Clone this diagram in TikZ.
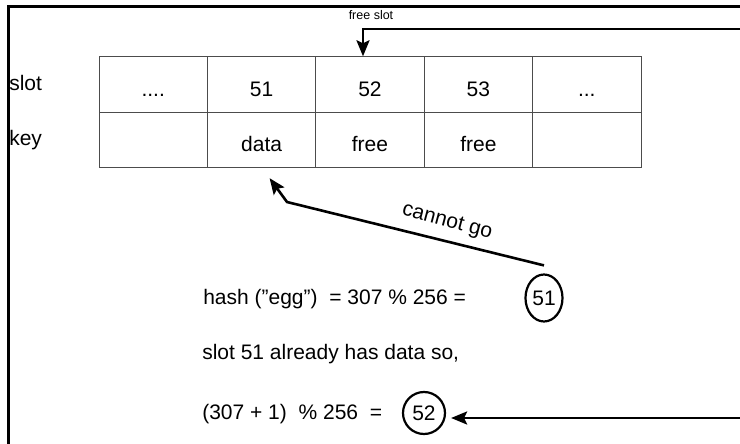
\documentclass[tikz,border=0pt]{standalone}
\usepackage{fontspec}
\setmainfont{Liberation Sans}
\usetikzlibrary{arrows.meta,shapes.geometric}
\newcommand\dotsfour{....}
\newcommand\dotsthree{...}
\begin{document}
\begin{tikzpicture}[x=1pt,y=-1pt,line width=2.6pt,
  txt/.style={font=\fontsize{21}{25}\selectfont,inner sep=0pt},
  cell/.style={txt,draw=black!70,line width=0.9pt,minimum width=108.4pt,minimum height=55.5pt,text height=23pt,text depth=0pt},
  arr/.style={-{Stealth[length=16pt,width=13pt,inset=3pt]}}]
  \useasboundingbox (0,0) rectangle (740,444);
  \draw[line width=3pt] (7,6.5) -- (740,6.5); \draw[line width=3pt] (8.5,6.5) -- (8.5,444);
  \foreach \i/\a/\b in {1/\dotsfour/,2/51/data,3/52/free,4/53/free,5/\dotsthree/}{
    \node[cell] (s\i) at (44.8+108.4*\i,84.5) {\a};
    \node[cell] (k\i) at (44.8+108.4*\i,140) {\b};
  }
  \node[txt,anchor=west] (slotlbl) at (8,83) {slot};
  \node[txt,anchor=west] (keylbl) at (8,140) {key};
  \node[font=\fontsize{12.5}{15}\selectfont,inner sep=0pt] (freelbl) at (371,15) {free slot};
  \coordinate (fin) at (740,29);
  \draw[arr] (fin) -| ([xshift=-7pt]s3.north);
  \node[txt,anchor=base west] (hashln) at (202,304) {hash (”egg”)~ = 307 \% 256 =};
  \node[txt,anchor=base west] (slotln) at (201,359) {slot 51 already has data so,};
  \node[txt,anchor=base west] (probeln) at (201,419) {(307 + 1)~ \% 256~ =};
  \node[txt,draw,line width=2.2pt,ellipse,minimum width=37pt,minimum height=47pt] (h51) at (544,298) {51};
  \node[txt,draw,line width=2.2pt,circle,minimum size=42pt] (h52) at (424,413) {52};
  \coordinate (bend) at (287,202);
  \draw[arr] ([yshift=8pt]h51.north) -- (bend) -- ([shift={(8pt,-10pt)}]k2.south);
  \node[txt,rotate=-15] (cango) at (447,222) {cannot go};
  \coordinate (rin) at (740,418);
  \draw[arr,shorten >=5pt] (rin) -- (h52.east |- rin);
\end{tikzpicture}
\end{document}
